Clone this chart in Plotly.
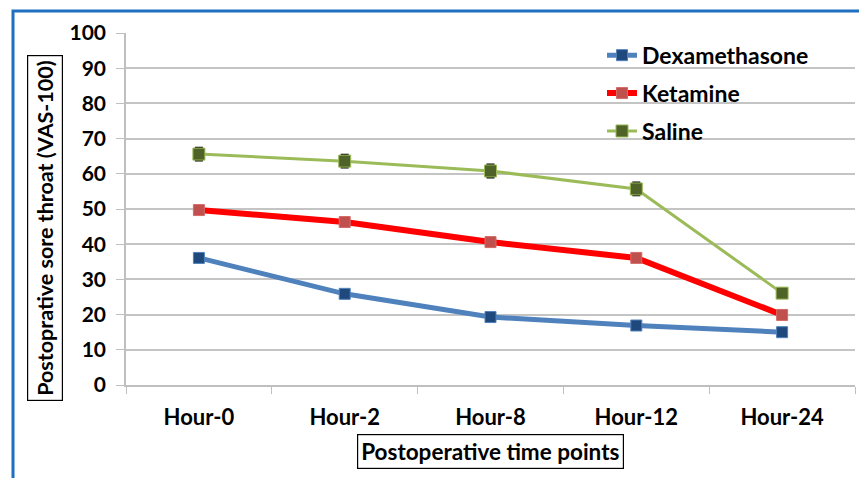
import plotly.graph_objects as go

categories = ["Hour-0", "Hour-2", "Hour-8", "Hour-12", "Hour-24"]
dexamethasone = [36.1, 25.9, 19.3, 16.9, 15.0]
ketamine = [49.7, 46.3, 40.6, 36.1, 19.9]
saline = [65.6, 63.6, 60.8, 55.7, 26.1]
saline_err = [1.9, 1.9, 1.9, 1.9, 0.0]
y_ticks = [0, 10, 20, 30, 40, 50, 60, 70, 80, 90, 100]

FONT = "Lato, 'Open Sans', sans-serif"

# plot area in figure pixels (page body adds an 8px offset)
L, T, PW, PH = 118, 25, 729, 352
W, H = 859, 470


def px(x):
    return (x - L) / PW


def py(y):
    return (T + PH - y) / PH


fig = go.Figure()
fig.add_trace(go.Scatter(
    x=categories, y=dexamethasone, name="Dexamethasone", mode="lines+markers",
    line=dict(color="#4f81bd", width=5),
    marker=dict(symbol="square", size=11, color="#1f497d", line=dict(color="#4f81bd", width=1)),
    legendgroup="a",
))
fig.add_trace(go.Scatter(
    x=categories, y=ketamine, name="Ketamine", mode="lines+markers",
    line=dict(color="#ff0000", width=6),
    marker=dict(symbol="square", size=11, color="#c0504d", line=dict(color="#d46a67", width=1)),
    legendgroup="b",
))
fig.add_trace(go.Scatter(
    x=categories, y=saline, name="Saline", mode="lines+markers",
    line=dict(color="#9bbb59", width=3),
    marker=dict(symbol="square", size=12, color="#4f6228", line=dict(color="#9bbb59", width=1)),
    error_y=dict(type="data", array=saline_err, visible=True, color="#000000", thickness=1.5, width=4),
    legendgroup="c",
))

fig.update_layout(
    width=W, height=H,
    margin=dict(l=L, r=W - L - PW, t=T, b=H - T - PH),
    paper_bgcolor="white", plot_bgcolor="white",
    font=dict(family=FONT, color="black"),
    showlegend=True,
    legend=dict(
        x=px(594), y=0.998, xanchor="left", yanchor="top",
        bgcolor="rgba(0,0,0,0)", font=dict(size=23, family=FONT, color="black", weight="bold"),
        tracegroupgap=5, traceorder="grouped", itemwidth=30,
    ),
    xaxis=dict(
        type="category", range=[-0.5, 4.5],
        showgrid=False, showline=True, linecolor="#bfbfbf", linewidth=1.5,
        ticks="outside", ticklen=7, tickcolor="#bfbfbf", tickson="boundaries",
        tickfont=dict(size=22, family=FONT, color="black", weight="bold"),
        ticklabelstandoff=12,
    ),
    yaxis=dict(
        range=[0, 100], tickvals=y_ticks,
        showgrid=True, gridcolor="#c4c4c4", gridwidth=1.5,
        showline=True, linecolor="#bfbfbf", linewidth=1.5,
        ticks="outside", ticklen=8, tickcolor="#bfbfbf",
        tickfont=dict(size=21, family=FONT, color="black", weight="bold"),
        ticklabelstandoff=6, zeroline=False,
    ),
)

fig.add_annotation(
    text="Postoprative sore throat (VAS-100)", textangle=-90,
    xref="paper", yref="paper", x=px(37), y=py(220),
    xanchor="center", yanchor="middle", showarrow=False,
    font=dict(size=21.5, family=FONT, color="black", weight="bold"),
    bordercolor="black", borderwidth=1.2, borderpad=4,
)
fig.add_annotation(
    text="Postoperative time points",
    xref="paper", yref="paper", x=px(482), y=py(443),
    xanchor="center", yanchor="middle", showarrow=False,
    font=dict(size=22.5, family=FONT, color="black", weight="bold"),
    bordercolor="black", borderwidth=1.2, borderpad=3,
)
fig.add_shape(
    type="rect", xref="paper", yref="paper",
    x0=px(5), x1=1.3, y0=-0.6, y1=py(3),
    line=dict(color="#1f6fc0", width=3), fillcolor="rgba(0,0,0,0)", layer="above",
)

fig.write_html("out.html")
